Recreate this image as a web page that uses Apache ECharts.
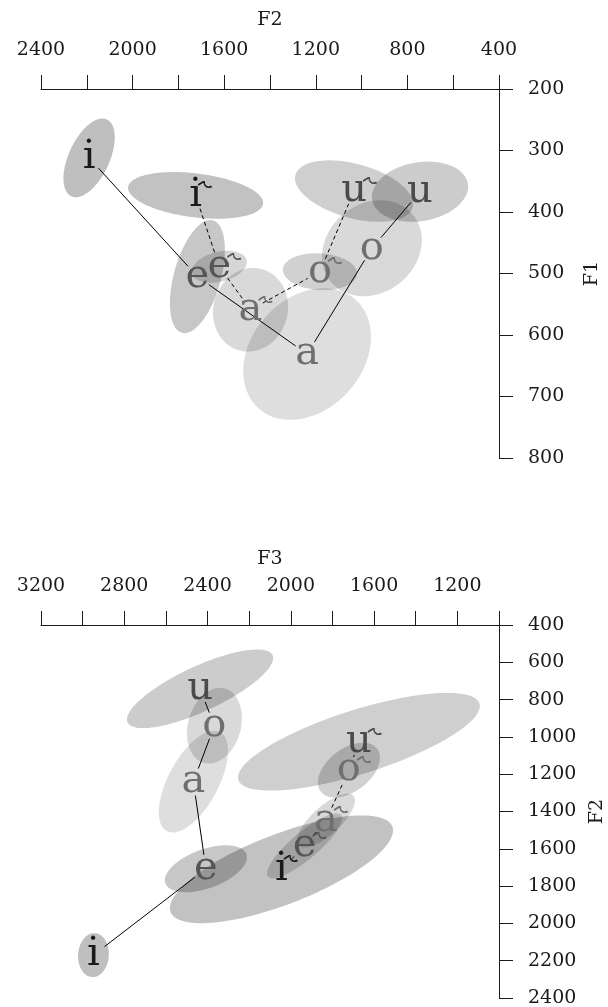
<!DOCTYPE html>
<html><head><meta charset="utf-8">
<script src="https://cdn.jsdelivr.net/npm/echarts@6/dist/echarts.min.js"></script>
<style>html,body{margin:0;padding:0;background:#fff}#c{width:608px;height:1007px}</style>
</head><body><div id="c"></div>
<script>
// ---- data ----
const vowels = ['i', 'e', 'a', 'o', 'u'];
const hook = '\u02DE';

// Top panel: x = F2, y = F1 (Hz). Means, half-extents and correlation.
const topPlainF2 = [2190, 1717, 1238, 955, 745];
const topPlainF1 = [312, 505, 631, 459, 367];
const topPlainSdF2 = [112, 120, 279, 218, 210];
const topPlainSdF1 = [64, 92, 107, 78, 49];
const topPlainRho = [0.52, 0.47, 0.26, 0.17, 0.17];

const topRhoticF2 = [1725, 1621, 1485, 1182, 1033];
const topRhoticF1 = [373, 489, 559, 497, 366];
const topRhoticSdF2 = [295, 120, 164, 162, 258];
const topRhoticSdF1 = [38, 26, 68, 30, 50];
const topRhoticRho = [-0.32, 0.3, 0.07, -0.1, -0.42];

// Bottom panel: x = F3, y = F2 (Hz)
const botPlainF3 = [2948, 2408, 2468, 2367, 2436];
const botPlainF2 = [2170, 1707, 1240, 940, 742];
const botPlainSdF3 = [74, 197, 166, 132, 351];
const botPlainSdF2 = [118, 126, 273, 203, 211];
const botPlainRho = [0.05, 0.49, 0.6, 0.2, 0.78];

const botRhoticF3 = [2045, 1934, 1831, 1721, 1673];
const botRhoticF2 = [1710, 1584, 1448, 1178, 1026];
const botRhoticSdF3 = [536, 180, 139, 149, 581];
const botRhoticSdF2 = [289, 174, 144, 147, 262];
const botRhoticRho = [0.72, 0.85, 0.74, 0.45, 0.73];

// axis ranges / ticks
const topX = {min: 400, max: 2400, step: 200, labelStep: 400};
const topY = {min: 200, max: 800, step: 100};
const botX = {min: 1000, max: 3200, step: 200, labelStep: 400};
const botY = {min: 400, max: 2400, step: 200};

// ---- styles ----
const FONT = 'DejaVu Serif';
const INK = '#1a1a1a';
const plainAlpha = [0.25, 0.22, 0.13, 0.15, 0.20];
const rhoticAlpha = [0.24, 0.16, 0.15, 0.18, 0.19];
const letterColor = ['#1a1a1a', '#555555', '#6f6f6f', '#6f6f6f', '#4a4a4a'];
const LETTER_SIZE = 40;
const HOOK_SIZE = 34;
const GAP = 14;

const mctx = document.createElement('canvas').getContext('2d');
function textW(s, size) { mctx.font = size + 'px "' + FONT + '"'; return mctx.measureText(s).width; }

function ellipseRows(cx, cy, sx, sy, rho, rh) {
  return cx.map((v, i) => [v, cy[i], sx[i], sy[i], rho[i], i, rh]);
}
function segRows(xs, ys) {
  const r = [];
  for (let i = 0; i < xs.length - 1; i++) r.push([xs[i], ys[i], xs[i + 1], ys[i + 1]]);
  return r;
}
function labelRows(xs, ys, rh) { return xs.map((v, i) => [v, ys[i], i, rh]); }

function renderEllipse(params, api) {
  const cx = api.value(0), cy = api.value(1), rx = api.value(2), ry = api.value(3);
  const rho = api.value(4), v = api.value(5), rh = api.value(6);
  const phi = Math.acos(rho);
  const pts = [];
  for (let k = 0; k < 120; k++) {
    const t = 2 * Math.PI * k / 120;
    pts.push(api.coord([cx + rx * Math.cos(t), cy + ry * Math.cos(t - phi)]));
  }
  return {type: 'polygon', silent: true, shape: {points: pts},
    style: {fill: 'rgba(0,0,0,' + (rh ? rhoticAlpha[v] : plainAlpha[v]) + ')'}};
}
function makeSegRenderer(dashed) {
  return function (params, api) {
    const a = api.coord([api.value(0), api.value(1)]);
    const b = api.coord([api.value(2), api.value(3)]);
    const dx = b[0] - a[0], dy = b[1] - a[1];
    const L = Math.sqrt(dx * dx + dy * dy);
    if (L <= 2 * GAP) return null;
    const ux = dx / L, uy = dy / L;
    return {type: 'line', silent: true,
      shape: {x1: a[0] + ux * GAP, y1: a[1] + uy * GAP, x2: b[0] - ux * GAP, y2: b[1] - uy * GAP},
      style: {stroke: '#000', lineWidth: 1, lineDash: dashed ? [4, 3] : null}};
  };
}
function renderLabel(params, api) {
  const p = api.coord([api.value(0), api.value(1)]);
  const v = api.value(2), rh = api.value(3);
  const ch = vowels[v];
  const kids = [{type: 'text', x: p[0], y: p[1],
    style: {text: ch, fontFamily: FONT, fontSize: LETTER_SIZE, fill: letterColor[v], align: 'center', verticalAlign: 'middle'}}];
  if (rh) {
    const w = textW(ch, LETTER_SIZE);
    kids.push({type: 'text', x: p[0] + w / 2 - 4, y: p[1] - 6,
      style: {text: hook, fontFamily: FONT, fontSize: HOOK_SIZE, fill: letterColor[v], align: 'left', verticalAlign: 'middle'}});
  }
  return {type: 'group', children: kids};
}

function xAxisCfg(gi, r, name, nameGap) {
  return {gridIndex: gi, type: 'value', position: 'top', inverse: true,
    min: r.min, max: r.max, interval: r.step,
    name: name, nameLocation: 'middle', nameGap: nameGap,
    nameTextStyle: {fontFamily: FONT, fontSize: 19, color: INK},
    axisLine: {show: true, onZero: false, lineStyle: {color: INK, width: 1}},
    axisTick: {show: true, length: 14, lineStyle: {color: INK, width: 1}},
    axisLabel: {margin: 29, fontFamily: FONT, fontSize: 19, color: INK, showMinLabel: true, showMaxLabel: true,
      formatter: v => ((r.max - v) % r.labelStep === 0 ? String(v) : '')},
    splitLine: {show: false}};
}
function yAxisCfg(gi, r, name) {
  return {gridIndex: gi, type: 'value', position: 'right', inverse: true,
    min: r.min, max: r.max, interval: r.step,
    name: name, nameLocation: 'middle', nameGap: 84, nameRotate: 90,
    nameTextStyle: {fontFamily: FONT, fontSize: 19, color: INK},
    axisLine: {show: true, onZero: false, lineStyle: {color: INK, width: 1}},
    axisTick: {show: true, length: 14, lineStyle: {color: INK, width: 1}},
    axisLabel: {margin: 29, fontFamily: FONT, fontSize: 19, color: INK, showMinLabel: true, showMaxLabel: true,
      formatter: v => String(v)},
    splitLine: {show: false}};
}

const series = [];
function addPanel(gi, px, py, psx, psy, prho, rxs, rys, rsx, rsy, rrho) {
  const base = {xAxisIndex: gi, yAxisIndex: gi, animation: false, silent: true};
  series.push(Object.assign({type: 'custom', renderItem: renderEllipse, clip: false,
    data: ellipseRows(px, py, psx, psy, prho, 0).concat(ellipseRows(rxs, rys, rsx, rsy, rrho, 1)),
    encode: {x: 0, y: 1}}, base));
  series.push(Object.assign({type: 'custom', renderItem: makeSegRenderer(false), data: segRows(px, py), encode: {x: [0, 2], y: [1, 3]}}, base));
  series.push(Object.assign({type: 'custom', renderItem: makeSegRenderer(true), data: segRows(rxs, rys), encode: {x: [0, 2], y: [1, 3]}}, base));
  series.push(Object.assign({type: 'custom', renderItem: renderLabel, clip: false,
    data: labelRows(px, py, 0).concat(labelRows(rxs, rys, 1)), encode: {x: 0, y: 1}}, base));
}
addPanel(0, topPlainF2, topPlainF1, topPlainSdF2, topPlainSdF1, topPlainRho,
  topRhoticF2, topRhoticF1, topRhoticSdF2, topRhoticSdF1, topRhoticRho);
addPanel(1, botPlainF3, botPlainF2, botPlainSdF3, botPlainSdF2, botPlainRho,
  botRhoticF3, botRhoticF2, botRhoticSdF3, botRhoticSdF2, botRhoticRho);

const chart = echarts.init(document.getElementById('c'));
chart.setOption({
  backgroundColor: '#ffffff',
  animation: false,
  grid: [
    {left: 41, right: 109, top: 89, bottom: 549, containLabel: false, outerBoundsMode: 'none'},
    {left: 41, right: 109, top: 625, bottom: 9, containLabel: false, outerBoundsMode: 'none'}
  ],
  xAxis: [xAxisCfg(0, topX, 'F2', 59), xAxisCfg(1, botX, 'F3', 56)],
  yAxis: [yAxisCfg(0, topY, 'F1'), yAxisCfg(1, botY, 'F2')],
  series: series
});
</script>
</body></html>
